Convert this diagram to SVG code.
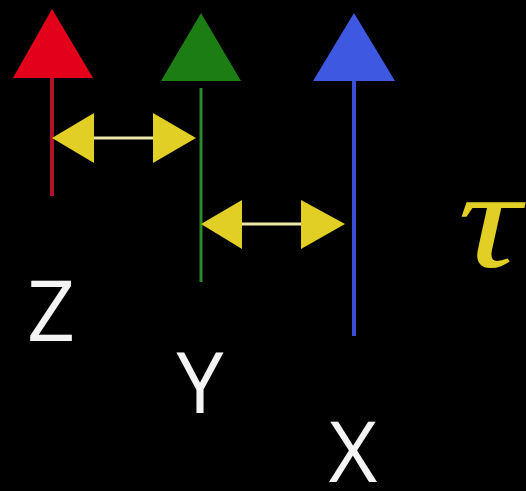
<svg xmlns="http://www.w3.org/2000/svg" width="526" height="491" viewBox="0 0 526 491">
<style>
.lbl{font-family:"Open Sans","Liberation Sans",sans-serif;font-size:84px;fill:#f4f4f4;text-anchor:middle}
.head{fill:#e2cf25}
.shaft{stroke:#ece6a8;stroke-width:3}
</style>
<rect width="526" height="491" fill="#000"/>
<g id="Z">
<line x1="52" y1="76" x2="52" y2="196" stroke="#b0122a" stroke-width="4"/>
<polygon points="52,9 93,78 13,78" fill="#e3001b"/>
<text class="lbl" x="51" y="341">Z</text>
</g>
<g id="Y">
<line x1="201" y1="88" x2="201" y2="282" stroke="#2c8a2a" stroke-width="3"/>
<polygon points="201,13 241,81 161,81" fill="#1c7d14"/>
<text class="lbl" x="200" y="413">Y</text>
</g>
<g id="X">
<line x1="354" y1="80" x2="354" y2="336" stroke="#3a4fd8" stroke-width="4"/>
<polygon points="354,13 395,81 313,81" fill="#3f58e2"/>
<text class="lbl" x="353" y="482">X</text>
</g>
<g id="connectors">
<line class="shaft" x1="90" y1="138" x2="156" y2="138"/>
<polygon class="head" points="52,138 94,113 94,163"/>
<polygon class="head" points="196,138 153,113 153,163"/>
<line class="shaft" x1="238" y1="224" x2="305" y2="224"/>
<polygon class="head" points="201,224 242,200 242,249"/>
<polygon class="head" points="345,224 301,200 301,249"/>
</g>
<text transform="translate(489,267) scale(1.25,1)" font-family="Liberation Serif,serif" font-style="italic" font-size="140" fill="#e2cf25" text-anchor="middle">τ</text>
</svg>
